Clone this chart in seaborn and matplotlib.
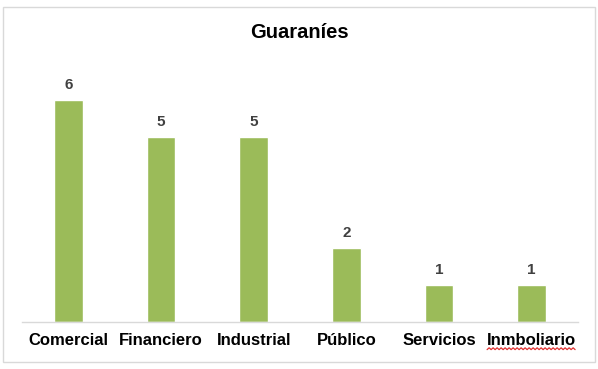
import numpy as np
import pandas as pd
import matplotlib
matplotlib.use("Agg")
import matplotlib.pyplot as plt
import seaborn as sns
from matplotlib.patches import Rectangle
from matplotlib.lines import Line2D

categories = ["Comercial", "Financiero", "Industrial", "Público", "Servicios", "Inmboliario"]
values = [6, 5, 5, 2, 1, 1]
title = "Guaraníes"

sns.set_theme(style="white")
plt.rcParams['font.family'] = ['Liberation Sans', 'DejaVu Sans']

df = pd.DataFrame({"cat": categories, "val": values})

W, H = 598, 369
fig = plt.figure(figsize=(W / 100, H / 100), dpi=100)
ax = fig.add_axes([22 / W, 47 / H, (578 - 22) / W, (322 - 63) / H])

sns.barplot(data=df, x="cat", y="val", color="#9BBB59", saturation=1, width=0.31, ax=ax)

ax.set_ylim(0, 7)
ax.set_xlim(-0.5, len(categories) - 0.5)
ax.set_xlabel("")
ax.set_ylabel("")
ax.set_yticks([])
ax.tick_params(axis="x", length=0, pad=8, labelsize=12, labelcolor="black")
for lab in ax.get_xticklabels():
    lab.set_fontweight("bold")
for s in ["top", "right", "left"]:
    ax.spines[s].set_visible(False)
ax.spines["bottom"].set_color("#D9D9D9")
ax.spines["bottom"].set_linewidth(1)

for c in ax.containers:
    ax.bar_label(c, labels=[str(v) for v in values], padding=6, fontsize=11,
                 fontweight="bold", color="#404040")

fig.text(0.5, 1 - 32 / H, title, ha="center", va="center", fontsize=14.5,
         fontweight="bold", color="black")

fig.add_artist(Rectangle((3 / W, 7 / H), (595 - 3) / W, (362 - 7) / H,
                         transform=fig.transFigure, fill=False,
                         edgecolor="#D9D9D9", linewidth=1))

# spell-check wavy underline under last label
fig.canvas.draw()
lab = ax.get_xticklabels()[-1]
bb = lab.get_window_extent(renderer=fig.canvas.get_renderer())
xs = np.arange(bb.x0, bb.x1, 2.0)
ys = bb.y0 - 1.5 + np.where(np.arange(len(xs)) % 2 == 0, 0, 1.8)
fig.add_artist(Line2D(xs / W, ys / H, transform=fig.transFigure,
                      color="#E03030", linewidth=0.9))

fig.savefig("out.png", dpi=100)
